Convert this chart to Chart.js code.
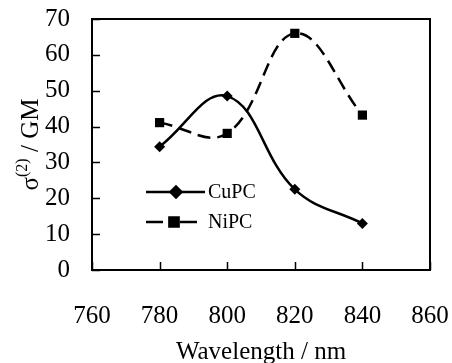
<!DOCTYPE html>
<html>
<head>
<meta charset="utf-8">
<script src="https://cdn.jsdelivr.net/npm/chart.js@4"></script>
<style>
html,body{margin:0;padding:0;background:#fff;}
#wrap{width:452px;height:363px;position:relative;}
</style>
</head>
<body>
<div id="wrap"><canvas id="c" width="452" height="363"></canvas></div>
<script>
// data
const wavelengths=[780,800,820,840];
const cupcValues=[34.4,48.5,22.5,13.0];
const nipcValues=[41.1,38.1,66.0,43.2];
const seriesNames=['CuPC','NiPC'];
const xTicks=[760,780,800,820,840,860];
const yTicks=[0,10,20,30,40,50,60,70];
const xTitle='Wavelength / nm';

const serif='"Liberation Serif", "DejaVu Serif", serif';

function toPoints(vals){return wavelengths.map((w,i)=>({x:w,y:vals[i]}));}

// frame, inner ticks, axis titles, legend
const decorations={
    id:'decorations',
    afterDraw(chart){
        const ctx=chart.ctx, a=chart.chartArea;
        const xs=chart.scales.x, ys=chart.scales.y;
        ctx.save();
        ctx.strokeStyle='#000';
        ctx.lineWidth=2;
        ctx.strokeRect(a.left,a.top,a.right-a.left,a.bottom-a.top);
        ctx.lineWidth=1.5;
        ctx.beginPath();
        yTicks.forEach(v=>{
            const y=Math.round(ys.getPixelForValue(v))+0.5;
            ctx.moveTo(a.left,y);ctx.lineTo(a.left+8,y);
        });
        xTicks.forEach(v=>{
            const x=Math.round(xs.getPixelForValue(v))+0.5;
            ctx.moveTo(x,a.bottom);ctx.lineTo(x,a.bottom-8);
        });
        ctx.stroke();

        // x title
        ctx.fillStyle='#000';
        ctx.font='25px '+serif;
        ctx.textAlign='center';
        ctx.textBaseline='alphabetic';
        ctx.fillText(xTitle,(a.left+a.right)/2,359);

        // y title with superscript
        const big='25px '+serif, small='16px '+serif;
        ctx.font=big; const w1=ctx.measureText('\u03c3').width;
        ctx.font=small; const w2=ctx.measureText('(2)').width;
        ctx.font=big; const w3=ctx.measureText(' / GM').width;
        const total=w1+w2+w3;
        ctx.translate(38,(a.top+a.bottom)/2);
        ctx.rotate(-Math.PI/2);
        ctx.textAlign='left';
        let x=-total/2;
        ctx.font=big; ctx.fillText('\u03c3',x,0); x+=w1;
        ctx.font=small; ctx.fillText('(2)',x,-11); x+=w2;
        ctx.font=big; ctx.fillText(' / GM',x,0);
        ctx.restore();

        // legend
        ctx.save();
        const rows=[192,222];
        chart.data.datasets.forEach((ds,i)=>{
            const y=rows[i];
            ctx.strokeStyle='#000';
            ctx.lineWidth=ds.borderWidth;
            ctx.beginPath();
            if(i===0){ctx.moveTo(146,y);ctx.lineTo(205,y);}
            else{ctx.moveTo(146,y);ctx.lineTo(163,y);ctx.moveTo(180,y);ctx.lineTo(197,y);}
            ctx.stroke();
            Chart.helpers.drawPoint(ctx,{pointStyle:ds.pointStyle,radius:ds.pointRadius,borderWidth:1},i===1?174:176,y);
            ctx.fillStyle='#000';
            ctx.font='20px '+serif;
            ctx.textAlign='left';
            ctx.textBaseline='middle';
            ctx.fillText(ds.label,208,y+1);
        });
        ctx.restore();
    }
};

new Chart(document.getElementById('c'),{
    type:'line',
    data:{
        datasets:[
            {label:seriesNames[0],data:toPoints(cupcValues),borderColor:'#000',backgroundColor:'#000',
             borderWidth:2.5,tension:0.4,pointStyle:'rectRot',pointRadius:5.5,pointBorderWidth:0},
            {label:seriesNames[1],data:toPoints(nipcValues),borderColor:'#000',backgroundColor:'#000',
             borderWidth:2.5,borderDash:[13,7],tension:0.4,pointStyle:'rect',pointRadius:6.5,pointBorderWidth:0}
        ]
    },
    options:{
        responsive:false,
        animation:false,
        layout:{padding:{top:19,right:22,left:0,bottom:0}},
        plugins:{legend:{display:false},tooltip:{enabled:false}},
        scales:{
            x:{type:'linear',min:760,max:860,
               afterBuildTicks(s){s.ticks=xTicks.map(v=>({value:v}));},
               afterFit(s){s.height=93;s.paddingLeft=0;s.paddingRight=0;},
               grid:{display:false,drawTicks:false},border:{display:false},
               ticks:{color:'#000',padding:31,font:{family:serif,size:25}}},
            y:{min:0,max:70,
               afterBuildTicks(s){s.ticks=yTicks.map(v=>({value:v}));},
               afterFit(s){s.width=92;s.paddingTop=0;s.paddingBottom=0;},
               grid:{display:false,drawTicks:false},border:{display:false},
               ticks:{color:'#000',padding:22,font:{family:serif,size:25}}}
        }
    },
    plugins:[decorations]
});
</script>
</body>
</html>
